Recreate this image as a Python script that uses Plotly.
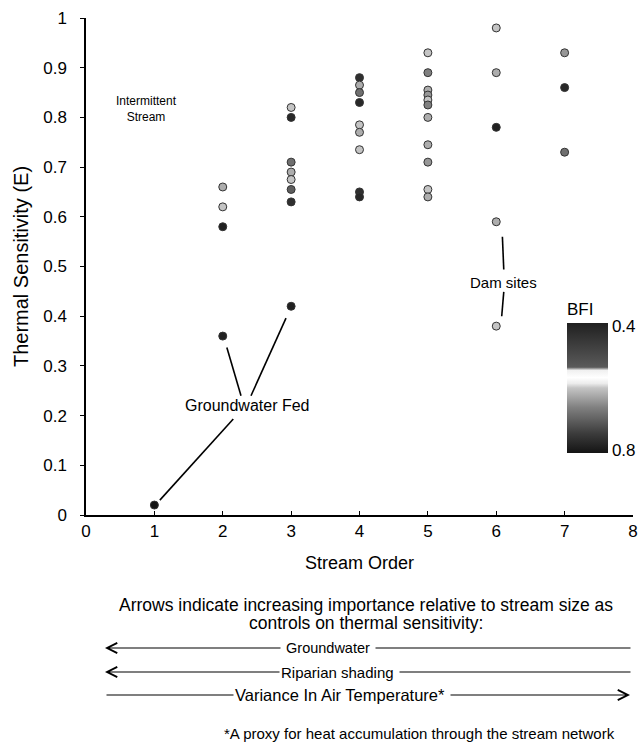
import plotly.graph_objects as go

# ---- data ----
stream_order = [1,
                2, 2, 2, 2,
                3, 3, 3, 3, 3, 3, 3, 3,
                4, 4, 4, 4, 4, 4, 4, 4, 4,
                5, 5, 5, 5, 5, 5, 5, 5, 5, 5, 5,
                6, 6, 6, 6, 6,
                7, 7, 7]
sensitivity = [0.02,
               0.66, 0.62, 0.58, 0.36,
               0.82, 0.80, 0.71, 0.69, 0.675, 0.655, 0.63, 0.42,
               0.88, 0.865, 0.85, 0.83, 0.785, 0.77, 0.735, 0.65, 0.64,
               0.93, 0.89, 0.855, 0.845, 0.835, 0.825, 0.80, 0.745, 0.71, 0.655, 0.64,
               0.98, 0.89, 0.78, 0.59, 0.38,
               0.93, 0.86, 0.73]
bfi = [0.80,
       0.62, 0.60, 0.78, 0.78,
       0.60, 0.77, 0.68, 0.62, 0.60, 0.70, 0.76, 0.78,
       0.76, 0.62, 0.68, 0.77, 0.60, 0.62, 0.60, 0.76, 0.77,
       0.60, 0.66, 0.62, 0.64, 0.60, 0.66, 0.62, 0.62, 0.64, 0.60, 0.62,
       0.60, 0.62, 0.78, 0.62, 0.60,
       0.64, 0.77, 0.68]

x_ticks = [0, 1, 2, 3, 4, 5, 6, 7, 8]
y_ticks = [0, 0.1, 0.2, 0.3, 0.4, 0.5, 0.6, 0.7, 0.8, 0.9, 1]
y_ticklabels = ["0", "0.1", "0.2", "0.3", "0.4", "0.5", "0.6", "0.7", "0.8", "0.9", "1"]
bfi_range = [0.4, 0.8]

FONT = "Liberation Sans, Arial, Helvetica, sans-serif"

L, R, T, B = 86, 10, 18, 236
W, H = 643, 751
PW = W - L - R
PH = H - T - B

gray_scale = [
    [0.0, "#141414"], [0.15, "#3c3c3c"], [0.35, "#808080"], [0.5, "#c4c4c4"],
    [0.535, "#ececec"], [0.58, "#ffffff"], [0.636, "#f0f0f0"], [0.66, "#5a5a5a"],
    [0.85, "#3a3a3a"], [1.0, "#202020"],
]


def py(p):
    return (H - B - p) / PH


def px(p):
    return (p - L) / PW


fig = go.Figure()
fig.add_trace(go.Scatter(
    x=stream_order, y=sensitivity, mode="markers",
    marker=dict(
        size=8, color=[-b for b in bfi], colorscale=gray_scale,
        cmin=-bfi_range[1], cmax=-bfi_range[0],
        line=dict(color="#333333", width=1),
        colorbar=dict(
            x=px(567), xanchor="left", y=py(299), yanchor="top",
            len=(453 - 299) / PH, lenmode="fraction", thickness=41, thicknessmode="pixels",
            xpad=0, ypad=0, outlinewidth=0,
            tickvals=[-0.41, -0.79], ticktext=["0.4", "0.8"], ticks="",
            tickfont=dict(family=FONT, size=17, color="black"),
            title=dict(text="BFI", side="top", font=dict(family=FONT, size=17, color="black")),
        ),
    ),
    cliponaxis=False, showlegend=False, hoverinfo="x+y",
))

line_style = dict(color="black", width=1.6)
# Groundwater Fed leader lines
for (x0, y0, x1, y1) in [(2.06, 0.337, 2.267, 0.24), (2.925, 0.396, 2.413, 0.24), (1.08, 0.03, 2.154, 0.193)]:
    fig.add_shape(type="line", x0=x0, y0=y0, x1=x1, y1=y1, xref="x", yref="y", line=line_style)
# Dam sites leader lines
for (x0, y0, x1, y1) in [(6.09, 0.56, 6.11, 0.494), (6.11, 0.449, 6.08, 0.40)]:
    fig.add_shape(type="line", x0=x0, y0=y0, x1=x1, y1=y1, xref="x", yref="y", line=line_style)

ann = []
ann.append(dict(x=0.89, y=0.817, xref="x", yref="y", text="Intermittent<br>Stream", showarrow=False,
                font=dict(family=FONT, size=12, color="black")))
ann.append(dict(x=2.355, y=0.221, xref="x", yref="y", text="Groundwater Fed", showarrow=False,
                font=dict(family=FONT, size=16, color="black")))
ann.append(dict(x=6.106, y=0.467, xref="x", yref="y", text="Dam sites", showarrow=False,
                font=dict(family=FONT, size=15, color="black")))

big = dict(family=FONT, size=17.5, color="black")
mid = dict(family=FONT, size=15, color="black")
paper_txt = dict(xref="paper", yref="paper", showarrow=False, xanchor="center", yanchor="middle")
ann.append(dict(x=px(366), y=py(605), text="Arrows indicate increasing importance relative to stream size as",
                font=big, **paper_txt))
ann.append(dict(x=px(366), y=py(623), text="controls on thermal sensitivity:", font=big, **paper_txt))

# arrows (head at given point, tail offset in pixels)
arrow_common = dict(xref="paper", yref="paper", axref="pixel", ayref="pixel", text="",
                    showarrow=True, arrowhead=5, arrowsize=1.8, arrowwidth=1.1, arrowcolor="black")
ann.append(dict(x=px(105), y=py(648), ax=632 - 105, ay=0, **arrow_common))
ann.append(dict(x=px(105), y=py(672), ax=632 - 105, ay=0, **arrow_common))
ann.append(dict(x=px(630), y=py(695), ax=105 - 630, ay=0, **arrow_common))

ann.append(dict(x=px(328), y=py(648), text=" Groundwater ", bgcolor="white",
                font=dict(family=FONT, size=14.5, color="black"), **paper_txt))
ann.append(dict(x=px(339), y=py(672), text="Riparian shading ", bgcolor="white", font=mid, **paper_txt))
ann.append(dict(x=px(342), y=py(695), text="Variance In Air Temperature* ", bgcolor="white",
                font=dict(family=FONT, size=16.5, color="black"), **paper_txt))
ann.append(dict(x=px(419), y=py(733), text="*A proxy for heat accumulation through the stream network",
                font=dict(family=FONT, size=15, color="black"), **paper_txt))

fig.update_layout(
    width=W, height=H,
    margin=dict(l=L, r=R, t=T, b=B, autoexpand=False),
    paper_bgcolor="white", plot_bgcolor="white",
    font=dict(family=FONT, color="black"),
    annotations=ann,
    xaxis=dict(
        range=[0, 8], tickmode="array", tickvals=x_ticks, ticktext=[str(v) for v in x_ticks],
        showgrid=False, zeroline=False, showline=True, linecolor="black", linewidth=1.5,
        ticks="inside", ticklen=4, tickcolor="black",
        ticklabelposition="outside", ticklabeloverflow="allow",
        tickfont=dict(family=FONT, size=17), ticklabelstandoff=0,
        title=dict(text="Stream Order", font=dict(family=FONT, size=18), standoff=16),
    ),
    yaxis=dict(
        range=[0, 1], tickvals=y_ticks, ticktext=y_ticklabels,
        showgrid=False, zeroline=False, showline=True, linecolor="black", linewidth=1.5,
        ticks="outside", ticklen=4, tickcolor="black",
        tickfont=dict(family=FONT, size=17), ticklabelstandoff=10,
        title=dict(text="Thermal Sensitivity (E)", font=dict(family=FONT, size=20), standoff=9),
    ),
)

fig.write_html("out.html", config={"displayModeBar": False},
               post_script="document.body.style.margin='0px';")
